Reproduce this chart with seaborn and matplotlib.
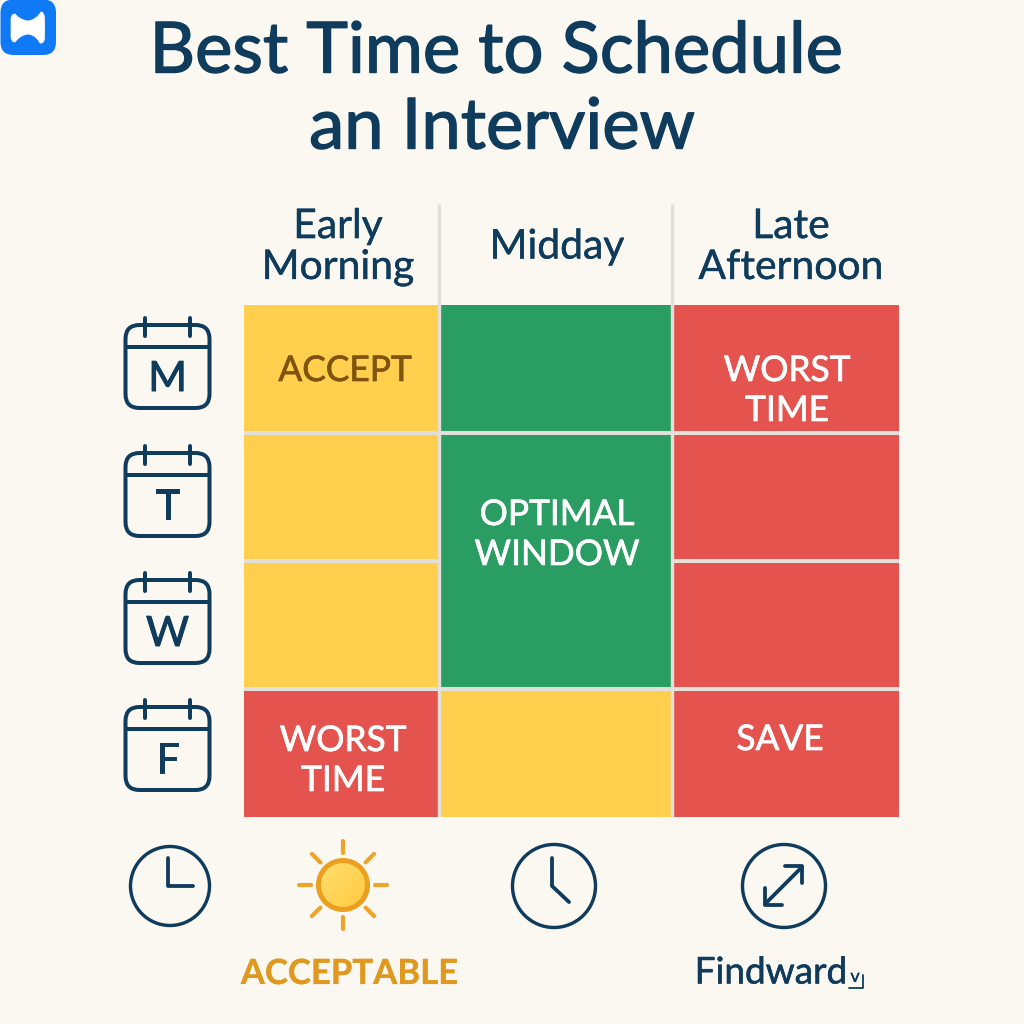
import numpy as np
import pandas as pd
import seaborn as sns
import matplotlib
matplotlib.use("Agg")
import matplotlib.pyplot as plt
import matplotlib.patheffects as pe
from matplotlib.colors import ListedColormap, LinearSegmentedColormap
from matplotlib.patches import FancyBboxPatch, Circle, PathPatch
from matplotlib.path import Path

# ---- data ----
days = ["M", "T", "W", "F"]
periods = ["Early\nMorning", "Midday", "Late\nAfternoon"]
# 0 = worst, 1 = acceptable, 2 = optimal
early_morning = [1, 1, 1, 0]
midday = [2, 2, 2, 1]
late_afternoon = [0, 0, 0, 0]
title_lines = ["Best Time to Schedule", "an Interview"]
merged_rows = {"Midday": [(1, 2)]}

BG = "#FBF8F2"
NAVY = "#0F3B5C"
GAP = "#E3E0DA"
RED, YEL, GRN = "#E5534F", "#FFCF4D", "#2A9D63"
ORANGE = "#E0981F"

sns.set_theme(style="white")
plt.rcParams["font.family"] = ["Lato", "DejaVu Sans"]

fig = plt.figure(figsize=(10.24, 10.24), dpi=100, facecolor=BG)
W = 1024.0

def add_axes_px(x0, y0, x1, y1, **kw):
    return fig.add_axes([x0 / W, 1 - y1 / W, (x1 - x0) / W, (y1 - y0) / W], **kw)

cmap = ListedColormap([RED, YEL, GRN])
col_edges = [(244, 438.5), (438.5, 672), (672, 899)]
columns = [early_morning, midday, late_afternoon]
keys = ["Early", "Midday", "Late"]
for (x0, x1), vals, key in zip(col_edges, columns, keys):
    ax = add_axes_px(x0, 305, x1, 817)
    frame = pd.DataFrame({key: vals}, index=days)
    sns.heatmap(frame, ax=ax, cmap=cmap, vmin=0, vmax=2, cbar=False,
                xticklabels=False, yticklabels=False, linewidths=0)
    ax.set_xlabel(""); ax.set_ylabel("")
    merged = merged_rows.get(key, [])
    for r in range(1, len(days)):
        if (r - 1, r) in merged:
            continue
        ax.axhline(r, color=GAP, lw=2.9, zorder=3)

# overlay in pixel coordinates
ov = fig.add_axes([0, 0, 1, 1], facecolor="none")
PX = 0.72

def label(x, y, s, size, color, stroke=0.5, **kw):
    t = ov.text(x, y, s, ha="center", va="center", fontsize=size, color=color, **kw)
    t.set_path_effects([pe.withStroke(linewidth=stroke, foreground=color)])
    return t

# vertical separators
for x in (438.5, 672):
    ov.plot([x, x], [204, 817], color=GAP, lw=3.4 * PX, solid_capstyle="butt", zorder=2)

# title
label(496, 52, title_lines[0], 50.8, NAVY, stroke=1.0)
label(502, 128, title_lines[1], 50.8, NAVY, stroke=1.0)

# headers
for x, y, s in [(338, 247, periods[0]), (557, 247, periods[1]), (791, 247, periods[2])]:
    label(x, y, s, 29.4, NAVY, stroke=0.3, linespacing=1.13)

# cell labels
labels = [(345, 371, "ACCEPT", "#7F5410"), (787, 371, "WORST", "white"), (787, 411, "TIME", "white"),
          (557, 515, "OPTIMAL", "white"), (557, 555, "WINDOW", "white"),
          (343, 741, "WORST", "white"), (343, 781, "TIME", "white"), (780, 740, "SAVE", "white")]
for x, y, s, c in labels:
    label(x, y, s, 25.4, c, stroke=0.5)

# calendar icons
for day, top in zip(days, [324, 452, 579, 706]):
    ov.add_patch(FancyBboxPatch((125.5, top + 1), 84, 83, boxstyle="round,pad=0,rounding_size=14",
                                fc="none", ec=NAVY, lw=4 * PX))
    ov.plot([125.5, 209.5], [top + 23, top + 23], color=NAVY, lw=4 * PX, solid_capstyle="butt")
    for rx in (144.5, 190):
        ov.plot([rx, rx], [top - 6, top + 12], color=NAVY, lw=4 * PX, solid_capstyle="round")
    label(167.5, top + 55, day, 30, NAVY, stroke=0.7)

# clocks
def clock(cx, cy, r, pts):
    ov.add_patch(Circle((cx, cy), r, fc="none", ec=NAVY, lw=3.4 * PX))
    xs, ys = zip(*pts)
    ov.plot(xs, ys, color=NAVY, lw=3.8 * PX, solid_capstyle="round", solid_joinstyle="round")

clock(170, 886, 39.5, [(168, 858), (168, 886), (193, 886)])
clock(554, 886, 41.5, [(552, 858), (552, 886), (569, 902)])
ov.add_patch(Circle((784, 886), 41.5, fc="none", ec=NAVY, lw=3.4 * PX))
ov.plot([765, 802], [904, 867], color=NAVY, lw=3.8 * PX)
ov.plot([785, 802, 802], [865.5, 865.5, 883], color=NAVY, lw=3.8 * PX)
ov.plot([765, 765, 782], [888, 905, 905], color=NAVY, lw=3.8 * PX)

# sun
sx, sy = 343, 885
disc = Circle((sx, sy), 24.5, fc=YEL, ec="none")
ov.add_patch(disc)
grad = np.linspace(0, 1, 64)[:, None] * np.ones((64, 64))
grad = (grad + grad.T) / 2
sun_cmap = LinearSegmentedColormap.from_list("sun", ["#FFE070", "#FFC93F"])
im = ov.imshow(grad, extent=(sx - 25, sx + 25, sy + 25, sy - 25), cmap=sun_cmap, aspect="auto", zorder=2)
im.set_clip_path(disc)
ov.add_patch(Circle((sx, sy), 24.5, fc="none", ec="#EC9F1E", lw=5 * PX, zorder=3))
for k in range(8):
    a = k * np.pi / 4
    ov.plot([sx + 32 * np.cos(a), sx + 44 * np.cos(a)], [sy + 32 * np.sin(a), sy + 44 * np.sin(a)],
            color="#EDA42A", lw=4.2 * PX, solid_capstyle="round")

# bottom labels
label(349.5, 974, "ACCEPTABLE", 25, ORANGE, stroke=0.1, weight="bold")
label(771, 973, "Findward", 26.6, NAVY, stroke=0.4)
label(855, 977, "v", 13, NAVY, stroke=0.2)
ov.plot([849, 862.5, 862.5], [987.5, 987.5, 975], color=NAVY, lw=1.8 * PX)

# logo
ov.add_patch(FancyBboxPatch((0.5, -0.5), 55.5, 55.5, boxstyle="round,pad=0,rounding_size=13", fc="#1079F6", ec="none"))
verts = [(11, 20), (11, 14), (15, 14), (20, 20), (28, 21), (36, 20), (41, 12), (44, 12), (44.5, 18),
         (45, 28), (44.5, 38), (44, 44), (40, 43), (36, 35), (28, 34), (20, 35), (15, 42), (11, 42), (11, 36),
         (11, 28), (11, 20)]
codes = [Path.MOVETO] + [Path.CURVE3] * 20
ov.add_patch(PathPatch(Path(verts, codes), fc="white", ec="white", lw=0.5))

ov.set_xlim(0, W); ov.set_ylim(W, 0); ov.axis("off")
fig.savefig("out.png", dpi=100, facecolor=BG)
